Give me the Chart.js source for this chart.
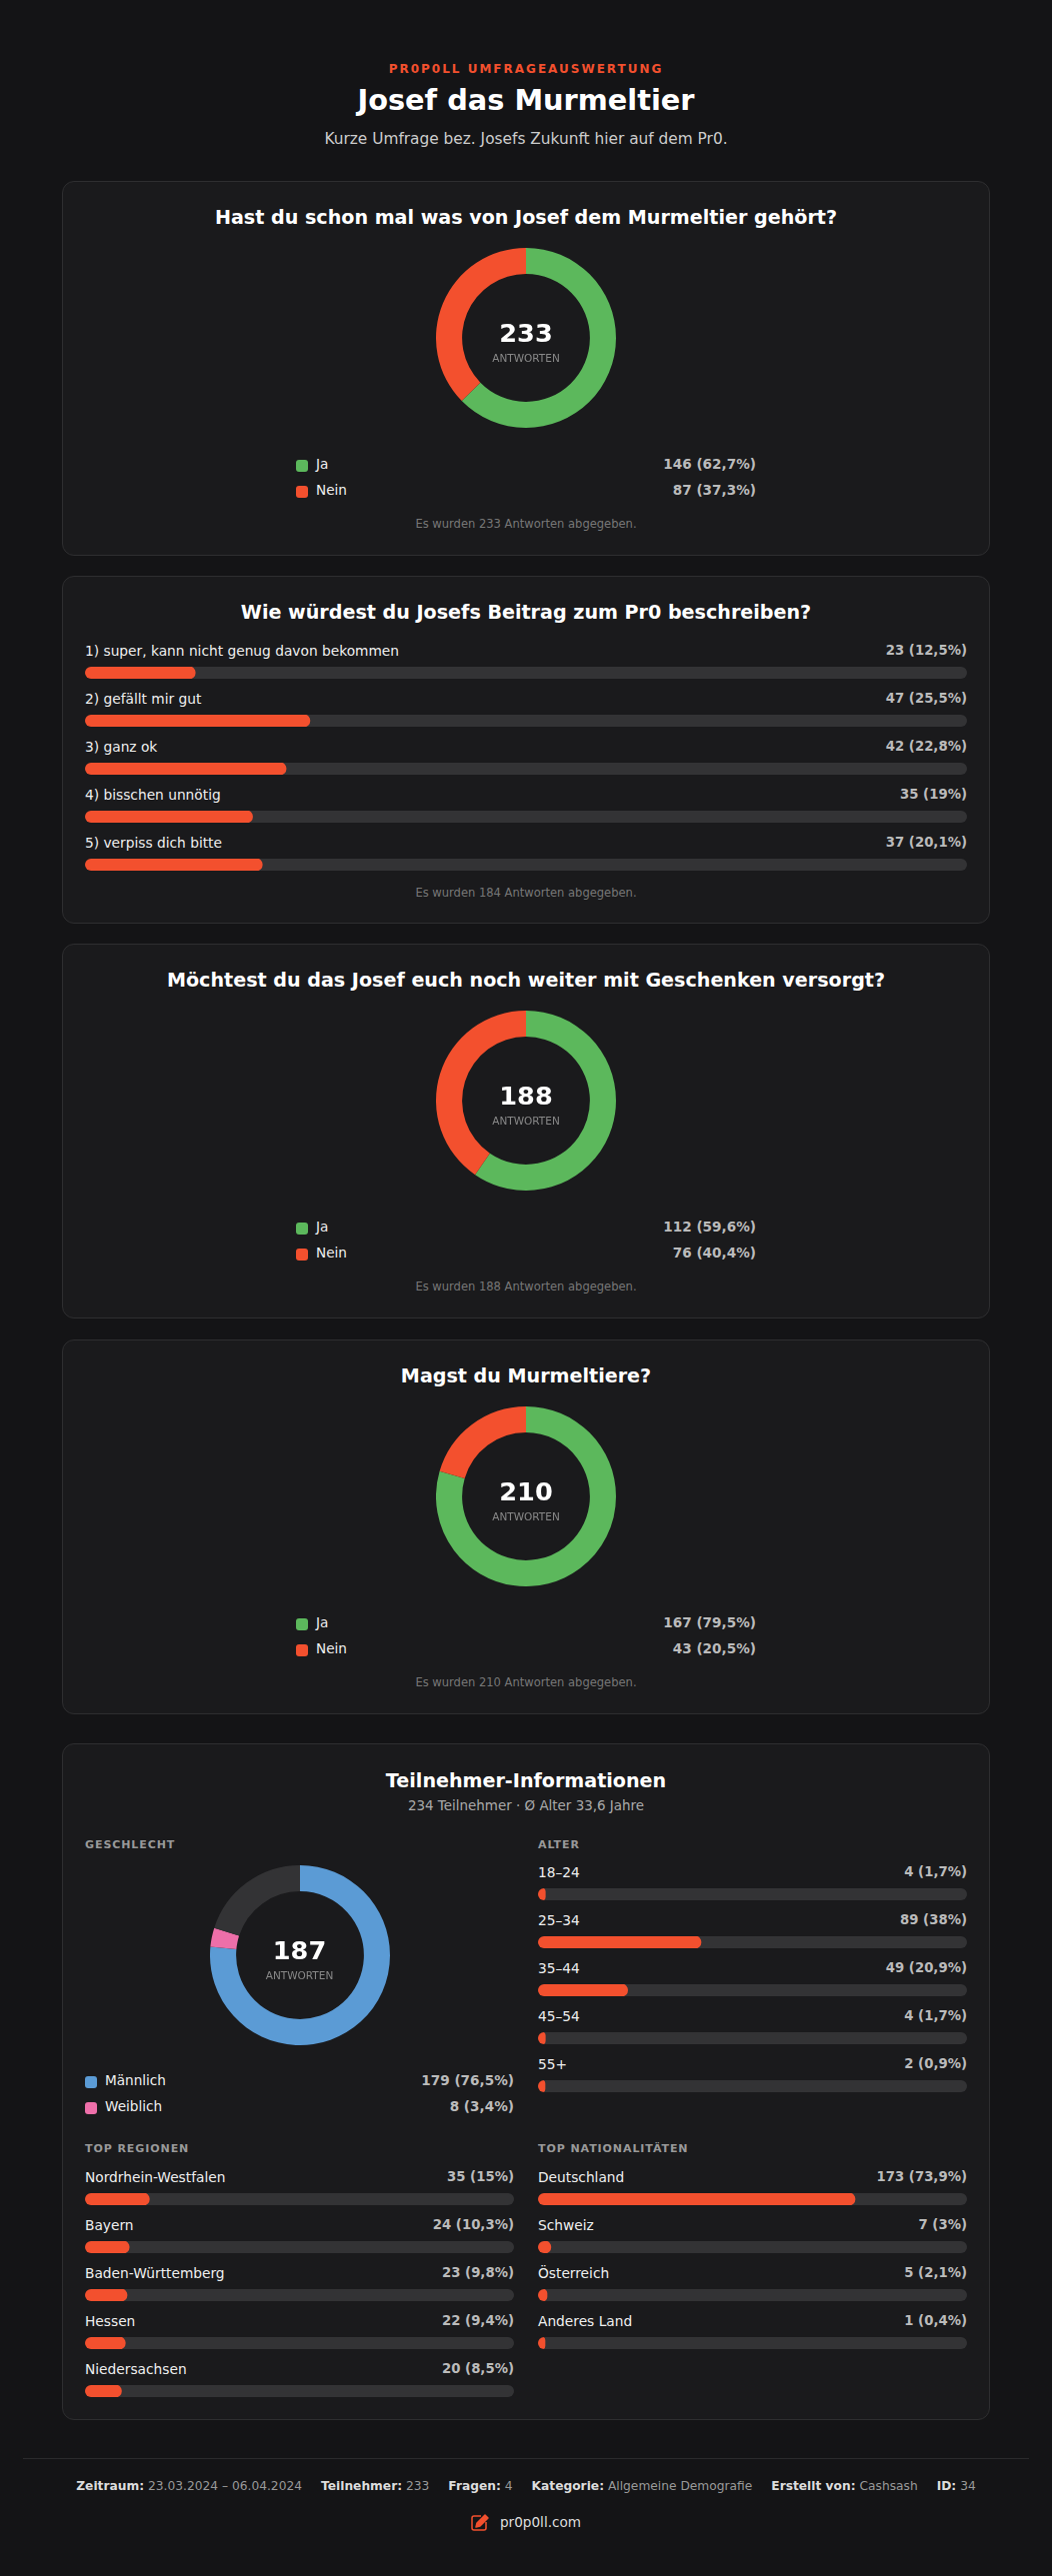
<!DOCTYPE html>
<html lang="de">
<head>
<meta charset="utf-8">
<title>Josef das Murmeltier</title>
<script src="https://cdn.jsdelivr.net/npm/chart.js@4"></script>
<style>
  * { box-sizing: border-box; }
  html, body { margin: 0; background: #141416; }
  body { width: 1052px; height: 2577px; font-family: "DejaVu Sans", sans-serif; color: #fff; overflow: hidden; position: relative; }
  .eyebrow { position: absolute; top: 62px; left: 0; width: 100%; text-align: center; font-size: 12px; line-height: 14px; font-weight: 700; letter-spacing: 2px; color: #f3502e; }
  h1 { position: absolute; top: 82px; left: 0; width: 100%; margin: 0; text-align: center; font-size: 28.8px; line-height: 36px; font-weight: 700; }
  .sub { position: absolute; top: 130px; left: 0; width: 100%; text-align: center; font-size: 15.36px; line-height: 18px; color: #ccc; }
  .card { position: absolute; left: 62px; width: 928px; background: #1a1a1c; border: 1px solid #2e2e30; border-radius: 12px; padding: 0 22px; }
  .card h2 { margin: 0; text-align: center; font-size: 19.12px; line-height: 24px; font-weight: 700; }
  .donut { position: relative; width: 180px; height: 180px; margin: 0 auto; }
  .donut canvas { display: block; }
  .center { position: absolute; left: 0; top: 0; width: 100%; height: 100%; padding-top: 6px; display: flex; flex-direction: column; align-items: center; justify-content: center; }
  .center b { font-size: 25.6px; line-height: 30px; }
  .center span { font-size: 10.5px; line-height: 14px; color: #888; margin-top: 3px; }
  .legend { margin: 0 auto; }
  .legend .item { display: flex; align-items: center; height: 26px; font-size: 13.6px; color: #efefef; }
  .swatch { width: 12px; height: 12px; border-radius: 3px; margin-right: 8px; flex: none; position: relative; top: 2px; }
  .val { margin-left: auto; font-weight: 600; color: #bbb; font-size: 13.6px; }
  .note { text-align: center; font-size: 11.52px; line-height: 16px; color: #777; }
  .row { height: 48px; }
  .row .head { display: flex; height: 26px; line-height: 20px; font-size: 13.76px; color: #efefef; }
  .row .head .val { font-size: 13.28px; }
  .row .bar { height: 12px; position: relative; }
  .row canvas { display: block; border-radius: 6px; }
  .col { position: absolute; width: 429px; }
  .col h3 { margin: 0; font-size: 11.04px; line-height: 16px; font-weight: 700; color: #999; letter-spacing: 0.9px; position: relative; top: 1px; }
  .rule { position: absolute; left: 23px; width: 1006px; top: 2459px; height: 1px; background: #2a2a2c; }
  .meta { position: absolute; top: 2478px; left: 0; width: 100%; text-align: center; font-size: 12.24px; line-height: 18px; color: #999; white-space: nowrap; }
  .meta span { margin: 0 9.5px; }
  .meta b { color: #ddd; }
  .brand { position: absolute; top: 2513px; left: 0; width: 100%; display: flex; justify-content: center; align-items: center; font-size: 13.6px; line-height: 20px; color: #ddd; }
  .brand svg { margin-right: 10px; }
</style>
</head>
<body>
<div class="eyebrow">PR0P0LL UMFRAGEAUSWERTUNG</div>
<h1>Josef das Murmeltier</h1>
<div class="sub">Kurze Umfrage bez. Josefs Zukunft hier auf dem Pr0.</div>
<div id="cards"></div>
<div class="rule"></div>
<div class="meta" id="meta"></div>
<div class="brand">
  <svg width="19" height="18" viewBox="0 0 19 18" fill="none" stroke="#f3502e" stroke-width="1.5"><path d="M10 3H3a2 2 0 0 0-2 2v10a2 2 0 0 0 2 2h10a2 2 0 0 0 2-2V9"/><path d="M6 10 14 2l3 3-8 8-4 1z" fill="#f3502e" stroke-linejoin="round"/></svg>
  pr0p0ll.com
</div>
<script>
// colours
const ORANGE = '#f3502e', GREEN = '#5cb85c', BLUE = '#5b9bd5', PINK = '#ee6fa9', TRACK = '#333335';

// Q1
const q1Title = 'Hast du schon mal was von Josef dem Murmeltier gehört?';
const q1Labels = ['Ja', 'Nein'];
const q1Values = [146, 87];
const q1Percents = [62.7, 37.3];
const q1Total = 233;

// Q2
const q2Title = 'Wie würdest du Josefs Beitrag zum Pr0 beschreiben?';
const q2Labels = ['1) super, kann nicht genug davon bekommen', '2) gefällt mir gut', '3) ganz ok', '4) bisschen unnötig', '5) verpiss dich bitte'];
const q2Values = [23, 47, 42, 35, 37];
const q2Percents = [12.5, 25.5, 22.8, 19, 20.1];
const q2Total = 184;

// Q3
const q3Title = 'Möchtest du das Josef euch noch weiter mit Geschenken versorgt?';
const q3Labels = ['Ja', 'Nein'];
const q3Values = [112, 76];
const q3Percents = [59.6, 40.4];
const q3Total = 188;

// Q4
const q4Title = 'Magst du Murmeltiere?';
const q4Labels = ['Ja', 'Nein'];
const q4Values = [167, 43];
const q4Percents = [79.5, 20.5];
const q4Total = 210;

// participants
const genderLabels = ['Männlich', 'Weiblich'];
const genderValues = [179, 8];
const genderPercents = [76.5, 3.4];
const genderTotal = 187;
const genderUnknown = 47;
const ageLabels = ['18–24', '25–34', '35–44', '45–54', '55+'];
const ageValues = [4, 89, 49, 4, 2];
const agePercents = [1.7, 38, 20.9, 1.7, 0.9];
const regionLabels = ['Nordrhein-Westfalen', 'Bayern', 'Baden-Württemberg', 'Hessen', 'Niedersachsen'];
const regionValues = [35, 24, 23, 22, 20];
const regionPercents = [15, 10.3, 9.8, 9.4, 8.5];
const natLabels = ['Deutschland', 'Schweiz', 'Österreich', 'Anderes Land'];
const natValues = [173, 7, 5, 1];
const natPercents = [73.9, 3, 2.1, 0.4];

const metaKeys = ['Zeitraum:', 'Teilnehmer:', 'Fragen:', 'Kategorie:', 'Erstellt von:', 'ID:'];
const metaValues = ['23.03.2024 – 06.04.2024', '233', '4', 'Allgemeine Demografie', 'Cashsash', '34'];

Chart.defaults.animation = false;
Chart.defaults.responsive = false;

const fmt = (v, p) => `${v} (${String(p).replace('.', ',')}%)`;

function el(tag, cls, text, parent) {
  const e = document.createElement(tag);
  if (cls) e.className = cls;
  if (text != null) e.textContent = text;
  if (parent) parent.appendChild(e);
  return e;
}

function donut(parent, values, colors, total) {
  const box = el('div', 'donut', null, parent);
  const canvas = el('canvas', null, null, box);
  canvas.width = 180; canvas.height = 180;
  new Chart(canvas, {
    type: 'doughnut',
    data: { datasets: [{ data: values, backgroundColor: colors, borderWidth: 0 }] },
    options: {
      cutout: '71%',
      plugins: { legend: { display: false }, tooltip: { enabled: false } },
    },
  });
  const c = el('div', 'center', null, box);
  el('b', null, String(total), c);
  el('span', null, 'ANTWORTEN', c);
  return box;
}

function legend(parent, labels, values, percents, colors, width) {
  const box = el('div', 'legend', null, parent);
  box.style.width = width + 'px';
  labels.forEach((l, i) => {
    const row = el('div', 'item', null, box);
    el('span', 'swatch', null, row).style.background = colors[i];
    el('span', null, l, row);
    el('span', 'val', fmt(values[i], percents[i]), row);
  });
  return box;
}

function bars(parent, labels, values, percents, width) {
  labels.forEach((l, i) => {
    const row = el('div', 'row', null, parent);
    const head = el('div', 'head', null, row);
    el('span', null, l, head);
    el('span', 'val', fmt(values[i], percents[i]), head);
    const wrap = el('div', 'bar', null, row);
    const canvas = el('canvas', null, null, wrap);
    canvas.width = width; canvas.height = 12;
    new Chart(canvas, {
      type: 'bar',
      data: {
        labels: [l],
        datasets: [
          { data: [percents[i]], backgroundColor: ORANGE, borderRadius: 6, borderSkipped: false, minBarLength: 7, barThickness: 12 },
          { data: [100], backgroundColor: TRACK, borderRadius: 6, borderSkipped: false, barThickness: 12 },
        ],
      },
      options: {
        indexAxis: 'y',
        layout: { padding: 0 },
        datasets: { bar: { grouped: false } },
        scales: {
          x: { display: false, min: 0, max: 100 },
          y: { display: false },
        },
        plugins: { legend: { display: false }, tooltip: { enabled: false } },
      },
    });
  });
}

function card(top, height) {
  const c = el('div', 'card', null, document.getElementById('cards'));
  c.style.top = top + 'px';
  c.style.height = height + 'px';
  return c;
}

function donutCard(top, title, labels, values, percents, total) {
  const c = card(top, 375);
  const h = el('h2', null, title, c);
  h.style.marginTop = '24px';
  const d = donut(c, values, [GREEN, ORANGE], total);
  d.style.marginTop = '18px';
  const lg = legend(c, labels, values, percents, [GREEN, ORANGE], 460);
  lg.style.marginTop = '23px';
  const n = el('div', 'note', `Es wurden ${total} Antworten abgegeben.`, c);
  n.style.marginTop = '13px';
}

donutCard(181, q1Title, q1Labels, q1Values, q1Percents, q1Total);

const c2 = card(576, 348);
const h2 = el('h2', null, q2Title, c2);
h2.style.marginTop = '24px';
h2.style.marginBottom = '16px';
bars(c2, q2Labels, q2Values, q2Percents, 882);
const n2 = el('div', 'note', `Es wurden ${q2Total} Antworten abgegeben.`, c2);
n2.style.marginTop = '4px';

donutCard(944, q3Title, q3Labels, q3Values, q3Percents, q3Total);
donutCard(1340, q4Title, q4Labels, q4Values, q4Percents, q4Total);

const c5 = card(1744, 677);
const h5 = el('h2', null, 'Teilnehmer-Informationen', c5);
h5.style.marginTop = '25px';
const s5 = el('div', 'note', '234 Teilnehmer · Ø Alter 33,6 Jahre', c5);
s5.style.color = '#aaa';
s5.style.fontSize = '13.44px';
s5.style.marginTop = '5px';

const col = (x, y) => {
  const d = el('div', 'col', null, c5);
  d.style.left = x + 'px';
  d.style.top = y + 'px';
  return d;
};
const gCol = col(22, 92);
el('h3', null, 'GESCHLECHT', gCol);
const gd = donut(gCol, genderValues.concat(genderUnknown), [BLUE, PINK, TRACK], genderTotal);
gd.style.marginTop = '13px';
const gl = legend(gCol, genderLabels, genderValues, genderPercents, [BLUE, PINK], 429);
gl.style.marginTop = '22px';

const aCol = col(475, 92);
el('h3', null, 'ALTER', aCol).style.marginBottom = '10px';
bars(aCol, ageLabels, ageValues, agePercents, 429);

const rCol = col(22, 396);
el('h3', null, 'TOP REGIONEN', rCol).style.marginBottom = '11px';
bars(rCol, regionLabels, regionValues, regionPercents, 429);

const nCol = col(475, 396);
el('h3', null, 'TOP NATIONALITÄTEN', nCol).style.marginBottom = '11px';
bars(nCol, natLabels, natValues, natPercents, 429);

const meta = document.getElementById('meta');
metaKeys.forEach((k, i) => {
  const s = el('span', null, null, meta);
  el('b', null, k, s);
  s.appendChild(document.createTextNode(' ' + metaValues[i]));
});
</script>
</body>
</html>
